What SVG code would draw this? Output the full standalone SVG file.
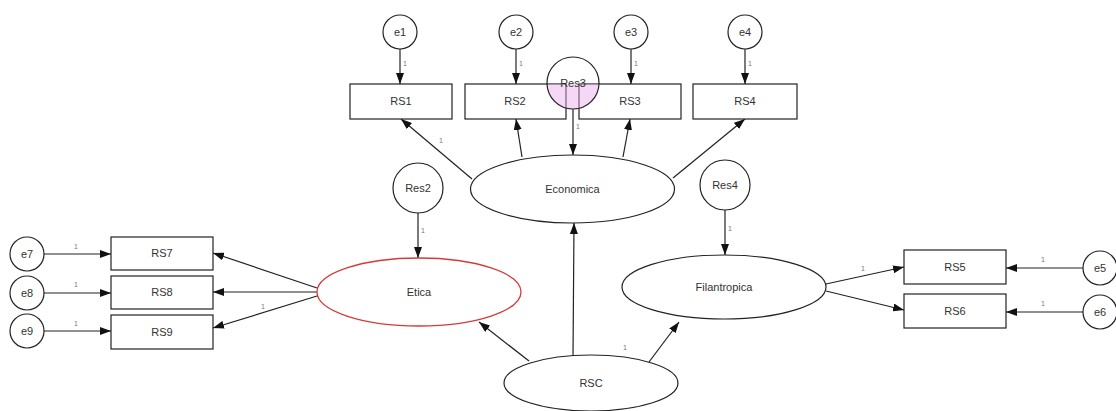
<svg xmlns="http://www.w3.org/2000/svg" width="1116" height="411" viewBox="0 0 1116 411">
<defs>
<style>
.n{fill:#fff;stroke:#222;stroke-width:1.2}
.o{fill:none;stroke:#222;stroke-width:1.2}
.red{fill:#fff;stroke:#d33a3a;stroke-width:1.3}
.t{font-family:"Liberation Sans",Arial,sans-serif;font-size:11px;fill:#333;text-anchor:middle}
.l{font-family:"Liberation Sans",Arial,sans-serif;font-size:7px;fill:#777;text-anchor:middle}
.c line{stroke:#222;stroke-width:1.2;marker-end:url(#ah)}
</style>
<marker id="ah" markerWidth="11" markerHeight="8" refX="11" refY="4" orient="auto" markerUnits="userSpaceOnUse">
<path d="M0,0 L11,4 L0,8 z" fill="#111"/>
</marker>
</defs>
<rect width="1116" height="411" fill="#fff"/>

<g id="connectors" class="c">
<line x1="400" y1="49" x2="400" y2="84"/>
<line x1="516" y1="49" x2="516" y2="84"/>
<line x1="631" y1="49" x2="631" y2="84"/>
<line x1="745" y1="49" x2="745" y2="84"/>
<line x1="573" y1="109" x2="573" y2="155"/>
<line x1="472" y1="179" x2="401" y2="119"/>
<line x1="522" y1="157" x2="516" y2="119"/>
<line x1="623" y1="157" x2="630" y2="119"/>
<line x1="673" y1="178" x2="745" y2="119"/>
<line x1="418" y1="213" x2="418" y2="258"/>
<line x1="725" y1="210" x2="725" y2="255"/>
<line x1="573" y1="356" x2="574" y2="223"/>
<line x1="529" y1="361" x2="479" y2="322"/>
<line x1="649" y1="362" x2="679" y2="322"/>
<line x1="317" y1="288" x2="213" y2="253"/>
<line x1="317" y1="292" x2="213" y2="292"/>
<line x1="317" y1="296" x2="213" y2="328"/>
<line x1="44" y1="254" x2="111" y2="254"/>
<line x1="44" y1="293" x2="111" y2="293"/>
<line x1="44" y1="331" x2="111" y2="331"/>
<line x1="826" y1="284" x2="904" y2="267"/>
<line x1="826" y1="291" x2="904" y2="310"/>
<line x1="1083" y1="268" x2="1006" y2="268"/>
<line x1="1083" y1="312" x2="1006" y2="312"/>
</g>
<g id="connector-labels">
<text class="l" x="405" y="66">1</text>
<text class="l" x="521" y="66">1</text>
<text class="l" x="636" y="66">1</text>
<text class="l" x="750" y="66">1</text>
<text class="l" x="578" y="129">1</text>
<text class="l" x="441" y="143">1</text>
<text class="l" x="423" y="233">1</text>
<text class="l" x="730" y="231">1</text>
<text class="l" x="625" y="350">1</text>
<text class="l" x="263" y="309">1</text>
<text class="l" x="76" y="249">1</text>
<text class="l" x="76" y="287">1</text>
<text class="l" x="76" y="326">1</text>
<text class="l" x="863" y="271">1</text>
<text class="l" x="1043" y="262">1</text>
<text class="l" x="1043" y="306">1</text>
</g>

<g id="e1"><circle class="n" cx="400" cy="32" r="17"/><text class="t" x="400" y="36">e1</text></g>
<g id="e2"><circle class="n" cx="516" cy="32" r="17"/><text class="t" x="516" y="36">e2</text></g>
<g id="e3"><circle class="n" cx="631" cy="32" r="17"/><text class="t" x="631" y="36">e3</text></g>
<g id="e4"><circle class="n" cx="745" cy="32" r="17"/><text class="t" x="745" y="36">e4</text></g>

<g id="RS1"><rect class="n" x="350" y="84" width="102" height="35"/><text class="t" x="401" y="105">RS1</text></g>
<g id="RS2"><rect class="n" x="465" y="84" width="101" height="35"/><text class="t" x="515" y="105">RS2</text></g>
<g id="RS3"><rect class="n" x="579" y="84" width="102" height="35"/><text class="t" x="630" y="105">RS3</text></g>
<g id="RS4"><rect class="n" x="693" y="84" width="104" height="35"/><text class="t" x="745" y="105">RS4</text></g>

<g id="Res3">
<path d="M547,84 A26,26 0 0 0 599,84 Z" fill="#e9a6ea" fill-opacity="0.45"/>
<circle class="o" cx="573" cy="83" r="26"/>
<text class="t" x="573" y="87">Res3</text>
</g>

<g id="Economica"><ellipse class="n" cx="572.5" cy="189" rx="102" ry="34"/><text class="t" x="572.5" y="193">Economica</text></g>
<g id="Res2"><circle class="n" cx="418" cy="188" r="25"/><text class="t" x="418" y="192">Res2</text></g>
<g id="Res4"><circle class="n" cx="725" cy="185" r="25"/><text class="t" x="725" y="189">Res4</text></g>
<g id="Etica"><ellipse class="red" cx="419" cy="292" rx="102" ry="34"/><text class="t" x="419" y="296">Etica</text></g>
<g id="Filantropica"><ellipse class="n" cx="724" cy="287" rx="102" ry="32"/><text class="t" x="724" y="291">Filantropica</text></g>
<g id="RSC"><ellipse class="n" cx="591" cy="383" rx="87" ry="28"/><text class="t" x="591" y="387">RSC</text></g>

<g id="RS7"><rect class="n" x="111" y="237" width="102" height="33"/><text class="t" x="162" y="257">RS7</text></g>
<g id="RS8"><rect class="n" x="111" y="276" width="102" height="33"/><text class="t" x="162" y="296">RS8</text></g>
<g id="RS9"><rect class="n" x="111" y="315" width="102" height="34"/><text class="t" x="162" y="336">RS9</text></g>
<g id="e7"><circle class="n" cx="27" cy="254" r="17"/><text class="t" x="27" y="258">e7</text></g>
<g id="e8"><circle class="n" cx="27" cy="293" r="17"/><text class="t" x="27" y="297">e8</text></g>
<g id="e9"><circle class="n" cx="27" cy="331" r="17"/><text class="t" x="27" y="335">e9</text></g>

<g id="RS5"><rect class="n" x="904" y="250" width="102" height="34"/><text class="t" x="955" y="271">RS5</text></g>
<g id="RS6"><rect class="n" x="904" y="294" width="102" height="34"/><text class="t" x="955" y="315">RS6</text></g>
<g id="e5"><circle class="n" cx="1100" cy="268" r="17"/><text class="t" x="1100" y="272">e5</text></g>
<g id="e6"><circle class="n" cx="1100" cy="312" r="17"/><text class="t" x="1100" y="316">e6</text></g>
</svg>
